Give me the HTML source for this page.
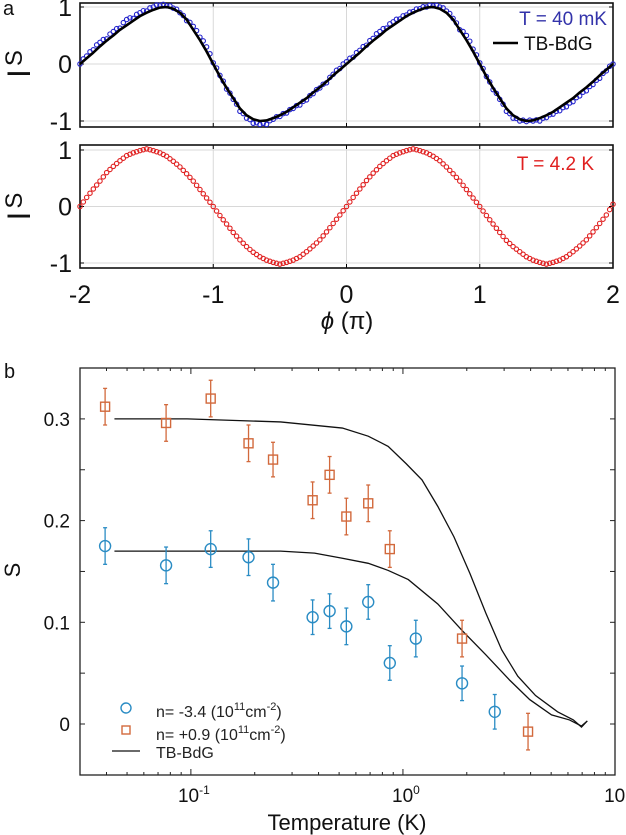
<!DOCTYPE html>
<html><head><meta charset="utf-8"><style>
html,body{margin:0;padding:0;background:#fff;}
svg{display:block;font-family:"Liberation Sans",sans-serif;}
</style></head><body>
<svg id="fig" width="626" height="835" viewBox="0 0 626 835">
<g id="pa"></g>
<g id="pb"></g>
</svg>
<script>
// ---------- Panel a data ----------
const phiGrid = [];
for (let i = 0; i <= 80; i++) phiGrid.push(-2 + i * 0.05);
const fitA = [0,.1,.2,.31,.41,.5,.6,.68,.76,.84,.9,.95,.99,1,.97,.9,.78,.6,.42,.22,0];
const fitB = [-.22,-.42,-.6,-.78,-.9,-.97,-1,-.99,-.95,-.9,-.84,-.76,-.68,-.6,-.5,-.41,-.31,-.2,-.1,0];
const fitC = [.1,.2,.31,.41,.5,.6,.68,.76,.84,.9,.95,.99,1,.97,.9,.78,.6,.42,.22,0];
const fitD = [-.22,-.42,-.6,-.78,-.9,-.97,-1,-.99,-.95,-.9,-.84,-.76,-.68,-.6,-.5,-.41,-.31,-.2,-.1,0];
const fitValues = fitA.concat(fitB, fitC, fitD);
const blueValues = [0,.14,.25,.38,.44,.57,.63,.78,.8,.9,.93,1.0,1.03,1.02,.98,.9,.76,.66,.47,.3,.02,
 -.2,-.44,-.62,-.83,-.95,-1.04,-1.06,-1.06,-.97,-.92,-.86,-.78,-.72,-.63,-.52,-.42,-.33,-.18,-.08,.04,
 .12,.24,.33,.45,.57,.63,.74,.79,.86,.92,.97,1.0,1.02,1.0,.93,.8,.6,.5,.26,.02,
 -.22,-.45,-.62,-.83,-.95,-1.0,-1.01,-1.0,-1.0,-.94,-.88,-.82,-.75,-.66,-.56,-.47,-.36,-.25,-.12,0];
const redValues = [0,.16,.31,.45,.6,.71,.81,.9,.95,.99,1.02,.99,.95,.89,.8,.7,.58,.45,.3,.15,0,
 -.16,-.31,-.46,-.59,-.71,-.81,-.89,-.95,-.99,-1.02,-.99,-.95,-.89,-.8,-.7,-.59,-.45,-.3,-.15,0,
 .16,.31,.46,.59,.71,.81,.9,.95,.99,1.02,.99,.95,.89,.81,.7,.58,.45,.3,.15,0,
 -.16,-.31,-.46,-.6,-.71,-.8,-.89,-.95,-.99,-1.02,-.99,-.95,-.89,-.8,-.7,-.59,-.45,-.3,-.15,.04];
const phiTicks = [-2,-1,0,1,2];
const phiTickLabels = ["-2","-1","0","1","2"];
const isTicks = [-1,0,1];

// ---------- Panel b data ----------
const tOrange = [0.0394,0.0764,0.124,0.187,0.244,0.375,0.451,0.541,0.686,0.867,1.90,3.89];
const sOrange = [0.312,0.296,0.320,0.276,0.260,0.220,0.245,0.204,0.217,0.172,0.084,-0.0075];
const eOrange = [0.018,0.018,0.018,0.018,0.017,0.018,0.018,0.018,0.018,0.018,0.018,0.018];
const tBlue = [0.0394,0.0764,0.124,0.187,0.244,0.375,0.451,0.541,0.686,0.867,1.15,1.90,2.71];
const sBlue = [0.175,0.156,0.172,0.164,0.139,0.105,0.111,0.096,0.120,0.060,0.084,0.040,0.012];
const eBlue = [0.018,0.018,0.018,0.018,0.018,0.017,0.017,0.018,0.017,0.017,0.018,0.017,0.017];
const tFitO = [0.0436,0.096,0.265,0.518,0.686,0.852,1.035,1.23,1.46,1.74,2.07,2.46,2.92,3.48,4.22,5.36,6.36,6.95,7.4];
const sFitO = [0.300,0.300,0.297,0.291,0.283,0.273,0.256,0.24,0.214,0.184,0.148,0.109,0.073,0.047,0.028,0.012,0.004,-0.003,0.003];
const tFitB = [0.0436,0.265,0.383,0.518,0.686,0.852,1.06,1.46,1.90,2.46,3.19,3.96,5.02,6.1,6.95,7.4];
const sFitB = [0.170,0.170,0.168,0.163,0.158,0.151,0.142,0.118,0.092,0.068,0.043,0.024,0.009,0.004,-0.002,0.003];
const sTicks = [0,0.1,0.2,0.3];
const sTickLabels = ["0","0.1","0.2","0.3"];
const tDecades = [0.1,1,10];

const NS = "http://www.w3.org/2000/svg";
function mk(parent, tag, attrs, text){
  const e = document.createElementNS(NS, tag);
  for (const k in attrs) e.setAttribute(k, attrs[k]);
  if (text !== undefined) e.textContent = text;
  parent.appendChild(e);
  return e;
}

// ---------- Panel a ----------
const pa = document.getElementById('pa');
const ax0 = 80, ax1 = 613;
const xPhi = p => ax0 + (p + 2) / 4 * (ax1 - ax0);
function subPanel(top, bottom, y1, ym1, name){
  const yS = v => y1 + (1 - v) / 2 * (ym1 - y1);
  const g = mk(pa, 'g', {});
  
  
  phiTicks.forEach(p => {
    const l = mk(g, 'line', {x1:xPhi(p), x2:xPhi(p), y1:top, y2:bottom, stroke:'#d8d8d8', 'stroke-width':1});
    
    
    mk(g,'line',{x1:xPhi(p),x2:xPhi(p),y1:bottom,y2:bottom-4,stroke:'#000','stroke-width':1});
    mk(g,'line',{x1:xPhi(p),x2:xPhi(p),y1:top,y2:top+4,stroke:'#000','stroke-width':1});
  });
  isTicks.forEach(v => {
    const l = mk(g, 'line', {x1:ax0, x2:ax1, y1:yS(v), y2:yS(v), stroke:'#d8d8d8', 'stroke-width':1});
    
    
    mk(g,'line',{x1:ax0,x2:ax0+4,y1:yS(v),y2:yS(v),stroke:'#000','stroke-width':1});
    mk(g,'line',{x1:ax1,x2:ax1-4,y1:yS(v),y2:yS(v),stroke:'#000','stroke-width':1});
    const t = mk(g,'text',{x:72,y:yS(v)+9,'text-anchor':'end','font-size':25,fill:'#111'}, v===-1?'-1':String(v));
    
    
  });
  const f = mk(g,'rect',{x:ax0,y:top,width:ax1-ax0,height:bottom-top,fill:'none',stroke:'#111','stroke-width':1.6});
  
  
  const lab = mk(g,'text',{transform:`translate(30,${yS(0)}) rotate(-90)`,'text-anchor':'middle','font-size':32,fill:'#111'});
  
  
  mk(lab,'tspan',{},'I');
  mk(lab,'tspan',{'font-size':24,dy:-8,dx:3},'S');
  return {g, yS};
}
const top1 = subPanel(3, 127, 7, 121, 'panel-a-40mK');
const bot1 = subPanel(145, 268, 150, 263, 'panel-a-4K');

phiGrid.forEach((p,i) => {
  const c = mk(top1.g,'circle',{cx:xPhi(p),cy:top1.yS(blueValues[i]),r:2.2,fill:'none',stroke:'#2222cc','stroke-width':1.1});
  
  
});
for (let i = 0; i < phiGrid.length-1; i++){
  const c = mk(top1.g,'circle',{cx:xPhi(phiGrid[i]+0.025),cy:top1.yS((blueValues[i]+blueValues[i+1])/2+0.02),r:2.2,fill:'none',stroke:'#2222cc','stroke-width':1.1});
  
  
}
const fit = mk(top1.g,'polyline',{points:phiGrid.map((p,i)=>xPhi(p)+','+top1.yS(fitValues[i])).join(' '),fill:'none',stroke:'#000','stroke-width':2.6,'stroke-linejoin':'round'});


phiGrid.forEach((p,i) => {
  const c = mk(bot1.g,'circle',{cx:xPhi(p),cy:bot1.yS(redValues[i]),r:2.2,fill:'none',stroke:'#e02020','stroke-width':1.1});
  
  
});
for (let i = 0; i < phiGrid.length-1; i++){
  const c = mk(bot1.g,'circle',{cx:xPhi(phiGrid[i]+0.025),cy:bot1.yS((redValues[i]+redValues[i+1])/2),r:2.2,fill:'none',stroke:'#e02020','stroke-width':1.1});
  
  
}
let t;
t = mk(pa,'text',{x:607,y:25,'text-anchor':'end','font-size':19,fill:'#3333aa'},'T = 40 mK');
 
mk(pa,'line',{x1:493,x2:518,y1:43,y2:43,stroke:'#000','stroke-width':2.4});
t = mk(pa,'text',{x:524,y:50,'font-size':19,fill:'#111'},'TB-BdG');
 
t = mk(pa,'text',{x:594,y:170,'text-anchor':'end','font-size':19,fill:'#e02020'},'T = 4.2 K');
 
t = mk(pa,'text',{x:3,y:15,'font-size':20,fill:'#111'},'a');
 
phiTicks.forEach((p,i)=>{
  const tl = mk(pa,'text',{x:xPhi(p),y:303,'text-anchor':'middle','font-size':25,fill:'#111'},phiTickLabels[i]);
   
});
t = mk(pa,'text',{x:347,y:329,'text-anchor':'middle','font-size':24,fill:'#111'});
 
mk(t,'tspan',{'font-style':'italic'},'ϕ');
mk(t,'tspan',{},' (π)');

// ---------- Panel b ----------
const pb = document.getElementById('pb');
const bx0 = 80, bx1 = 615, by0 = 368, by1 = 775;
const lmin = Math.log10(0.03), lmax = 1;
const xT = v => bx0 + (Math.log10(v) - lmin) / (lmax - lmin) * (bx1 - bx0);
const yS2 = v => 724 - v * 1017;
for (let s = -0.05; s <= 0.351; s += 0.05){
  const y = yS2(s);
  if (y < by0+1 || y > by1-1) continue;
  mk(pb,'line',{x1:bx0,x2:bx0+5,y1:y,y2:y,stroke:'#222','stroke-width':1});
  mk(pb,'line',{x1:bx1,x2:bx1-5,y1:y,y2:y,stroke:'#222','stroke-width':1});
}
sTicks.forEach((s,i)=>{
  const tl = mk(pb,'text',{x:70,y:yS2(s)+7,'text-anchor':'end','font-size':19,fill:'#111'},sTickLabels[i]);
   
});
for (let d = 0.01; d < 10; d *= 10){
  for (let m = 1; m < 10; m++){
    const v = d*m; if (v < 0.03 || v > 10) continue;
    const len = m===1 ? 6 : 3;
    mk(pb,'line',{x1:xT(v),x2:xT(v),y1:by1,y2:by1-len,stroke:'#222','stroke-width':1});
    mk(pb,'line',{x1:xT(v),x2:xT(v),y1:by0,y2:by0+len,stroke:'#222','stroke-width':1});
  }
}
const decLab = ["-1","0","1"];
tDecades.forEach((v,i)=>{
  const tl = mk(pb,'text',{x:xT(v)+3,y:802,'text-anchor':'middle','font-size':19,fill:'#111'});
   
  mk(tl,'tspan',{},'10');
  mk(tl,'tspan',{dy:-8,'font-size':12},decLab[i]);
});
const fr = mk(pb,'rect',{x:bx0,y:by0,width:bx1-bx0,height:by1-by0,fill:'none',stroke:'#222','stroke-width':1.3});
 
let pl = mk(pb,'polyline',{points:tFitO.map((v,i)=>xT(v)+','+yS2(sFitO[i])).join(' '),fill:'none',stroke:'#111','stroke-width':1.3});
 
pl = mk(pb,'polyline',{points:tFitB.map((v,i)=>xT(v)+','+yS2(sFitB[i])).join(' '),fill:'none',stroke:'#111','stroke-width':1.3});
 
const OR = '#d2693c', BL = '#2a8cc4';
function errbar(x,s,e,col){
  mk(pb,'line',{x1:x,x2:x,y1:yS2(s+e),y2:yS2(s-e),stroke:col,'stroke-width':1.3});
  mk(pb,'line',{x1:x-2,x2:x+2,y1:yS2(s+e),y2:yS2(s+e),stroke:col,'stroke-width':1.3});
  mk(pb,'line',{x1:x-2,x2:x+2,y1:yS2(s-e),y2:yS2(s-e),stroke:col,'stroke-width':1.3});
}
tBlue.forEach((v,i)=>{
  const x = xT(v);
  errbar(x,sBlue[i],eBlue[i],BL);
  const c = mk(pb,'circle',{cx:x,cy:yS2(sBlue[i]),r:5.5,fill:'none',stroke:BL,'stroke-width':1.4});
   
});
tOrange.forEach((v,i)=>{
  const x = xT(v);
  errbar(x,sOrange[i],eOrange[i],OR);
  const r = mk(pb,'rect',{x:x-4.5,y:yS2(sOrange[i])-4.5,width:9,height:9,fill:'none',stroke:OR,'stroke-width':1.4});
   
});
const lg = mk(pb,'g',{});
 
mk(lg,'circle',{cx:126,cy:708,r:5,fill:'none',stroke:BL,'stroke-width':1.4});
let lt = mk(lg,'text',{x:156,y:717,'font-size':16,fill:'#222'});
 
mk(lt,'tspan',{},'n= -3.4 (10');mk(lt,'tspan',{dy:-7,'font-size':11},'11');mk(lt,'tspan',{dy:7},'cm');mk(lt,'tspan',{dy:-7,'font-size':11},'-2');mk(lt,'tspan',{dy:7},')');
mk(lg,'rect',{x:122,y:726,width:8,height:8,fill:'none',stroke:OR,'stroke-width':1.4});
lt = mk(lg,'text',{x:156,y:740,'font-size':16,fill:'#222'});
 
mk(lt,'tspan',{},'n= +0.9 (10');mk(lt,'tspan',{dy:-7,'font-size':11},'11');mk(lt,'tspan',{dy:7},'cm');mk(lt,'tspan',{dy:-7,'font-size':11},'-2');mk(lt,'tspan',{dy:7},')');
mk(lg,'line',{x1:112,x2:140,y1:751,y2:751,stroke:'#111','stroke-width':1.3});
lt = mk(lg,'text',{x:156,y:758,'font-size':16,fill:'#222'},'TB-BdG');
 
t = mk(pb,'text',{transform:'translate(20,570) rotate(-90)','text-anchor':'middle','font-size':22,fill:'#111'},'S');
 
t = mk(pb,'text',{x:347,y:830,'text-anchor':'middle','font-size':22,fill:'#111'},'Temperature (K)');
 
t = mk(pb,'text',{x:4,y:378,'font-size':20,fill:'#111'},'b');
 
</script>
</body></html>
